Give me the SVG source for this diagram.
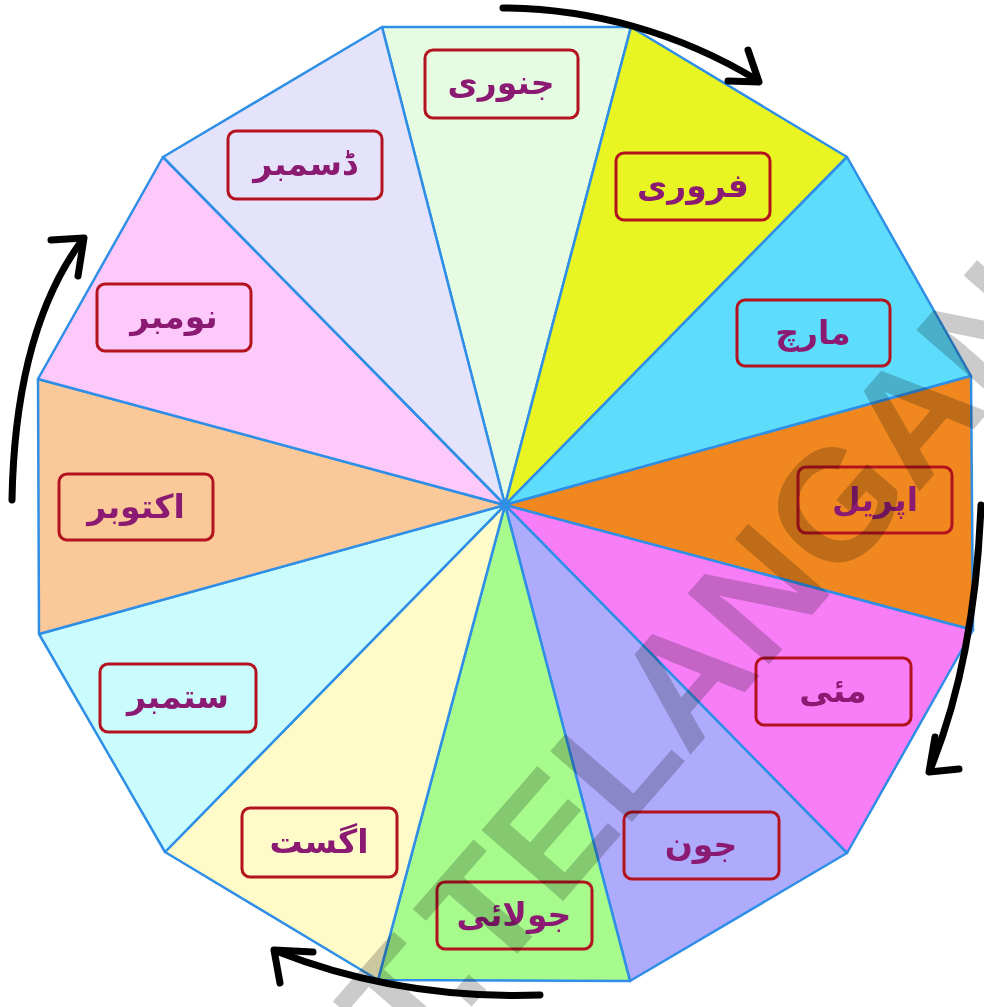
<svg xmlns="http://www.w3.org/2000/svg" width="984" height="1007" viewBox="0 0 984 1007">
<style>
.wedge{stroke:#2f8fe6;stroke-width:2.5;stroke-linejoin:round}
.box{fill:none;stroke:#b3121f;stroke-width:3}
.lbl{font-family:"DejaVu Sans",sans-serif;font-weight:bold;font-size:33px;fill:#8b1a72;text-anchor:middle}
.arr{fill:none;stroke:#000;stroke-width:7;stroke-linecap:round;stroke-linejoin:round}
.wm{font-family:"Liberation Sans",Arial,sans-serif;font-weight:bold;font-size:157px;fill:#cbcbcb;mix-blend-mode:multiply}
</style>
<rect width="984" height="1007" fill="#fff"/>
<g id="jan"><polygon class="wedge" fill="#e6fce2" points="505,505 382,27 631,27"/><rect class="box" x="425" y="50" width="153" height="68" rx="8"/><text class="lbl" x="501" y="94">جنوری</text></g>
<g id="feb"><polygon class="wedge" fill="#e8f523" points="505,505 631,27 847,157"/><rect class="box" x="616" y="153" width="154" height="67" rx="8"/><text class="lbl" x="693" y="197">فروری</text></g>
<g id="mar"><polygon class="wedge" fill="#5ddcfc" points="505,505 847,157 971,376"/><rect class="box" x="737" y="300" width="153" height="66" rx="8"/><text class="lbl" x="813" y="344">مارچ</text></g>
<g id="apr"><polygon class="wedge" fill="#f0871f" points="505,505 971,376 973,630"/><rect class="box" x="798" y="467" width="154" height="66" rx="8"/><text class="lbl" x="875" y="511">اپریل</text></g>
<g id="may"><polygon class="wedge" fill="#f77ef6" points="505,505 973,630 847,853"/><rect class="box" x="756" y="658" width="155" height="67" rx="8"/><text class="lbl" x="833" y="702">مئی</text></g>
<g id="jun"><polygon class="wedge" fill="#aeaafc" points="505,505 847,853 630,981"/><rect class="box" x="624" y="812" width="155" height="67" rx="8"/><text class="lbl" x="701" y="856">جون</text></g>
<g id="jul"><polygon class="wedge" fill="#a6fb8c" points="505,505 630,981 378,980"/><rect class="box" x="437" y="882" width="155" height="67" rx="8"/><text class="lbl" x="514" y="926">جولائی</text></g>
<g id="aug"><polygon class="wedge" fill="#fffbc8" points="505,505 378,980 165,852"/><rect class="box" x="242" y="808" width="155" height="69" rx="8"/><text class="lbl" x="319" y="853">اگست</text></g>
<g id="sep"><polygon class="wedge" fill="#cbfcfd" points="505,505 165,852 39,634"/><rect class="box" x="100" y="664" width="156" height="68" rx="8"/><text class="lbl" x="178" y="708">ستمبر</text></g>
<g id="oct"><polygon class="wedge" fill="#fbc899" points="505,505 39,634 38,379"/><rect class="box" x="59" y="474" width="154" height="66" rx="8"/><text class="lbl" x="136" y="518">اکتوبر</text></g>
<g id="nov"><polygon class="wedge" fill="#fdc9fb" points="505,505 38,379 163,157"/><rect class="box" x="97" y="284" width="154" height="67" rx="8"/><text class="lbl" x="174" y="328">نومبر</text></g>
<g id="dec"><polygon class="wedge" fill="#e5e3fb" points="505,505 163,157 382,27"/><rect class="box" x="228" y="131" width="154" height="68" rx="8"/><text class="lbl" x="305" y="175">ڈسمبر</text></g>
<g id="connectors">
<path class="arr" d="M503,8 A495,495 0 0 1 757,80"/>
<path class="arr" d="M748,50 L759,82 L728,81"/>
<path class="arr" d="M981,505 Q975,660 930,770"/>
<path class="arr" d="M935,737 L929,772 L959,769"/>
<path class="arr" d="M540,995 Q400,1000 276,951"/>
<path class="arr" d="M313,952 L274,950 L280,983"/>
<path class="arr" d="M12,500 Q15,330 83,239"/>
<path class="arr" d="M51,240 L84,238 L78,276"/>
</g>
<g id="watermark" transform="translate(505,968) rotate(-49)"><text class="wm" x="-140" y="0">T.TELANGANA</text></g>
</svg>
